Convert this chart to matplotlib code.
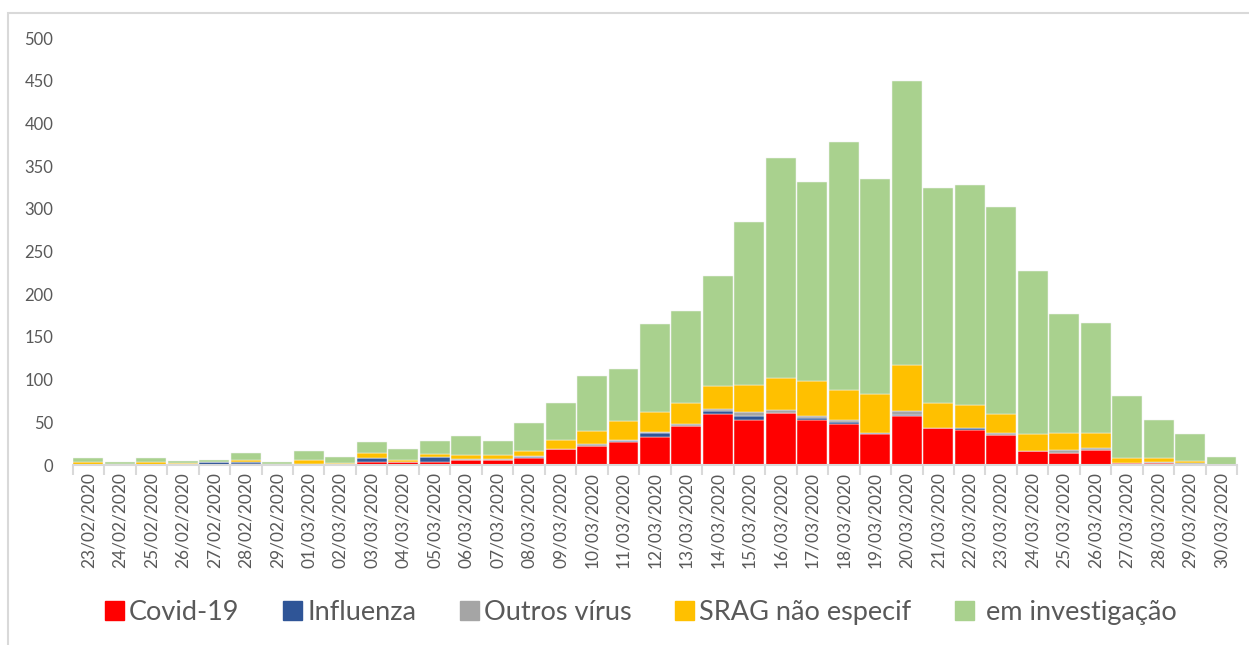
import matplotlib.pyplot as plt
import matplotlib.patches as mpatches
import numpy as np

plt.rcParams['font.family'] = ['Lato', 'DejaVu Sans']

dates = [
    "23/02/2020", "24/02/2020", "25/02/2020", "26/02/2020", "27/02/2020", "28/02/2020",
    "29/02/2020", "01/03/2020", "02/03/2020", "03/03/2020", "04/03/2020", "05/03/2020",
    "06/03/2020", "07/03/2020", "08/03/2020", "09/03/2020", "10/03/2020", "11/03/2020",
    "12/03/2020", "13/03/2020", "14/03/2020", "15/03/2020", "16/03/2020", "17/03/2020",
    "18/03/2020", "19/03/2020", "20/03/2020", "21/03/2020", "22/03/2020", "23/03/2020",
    "24/03/2020", "25/03/2020", "26/03/2020", "27/03/2020", "28/03/2020", "29/03/2020",
    "30/03/2020",
]
covid = [0, 0, 0, 0, 0, 1, 0, 0, 0, 4, 3, 3, 6, 6, 8, 19, 22, 27, 33, 46, 60, 53, 61, 53,
         48, 36, 57, 43, 41, 35, 16, 14, 18, 2, 2, 0, 0]
influenza = [0, 0, 0, 1, 3, 2, 1, 1, 1, 4, 1, 6, 0, 0, 2, 0, 0, 1, 5, 0, 3, 4, 0, 2,
             2, 1, 2, 0, 2, 0, 0, 0, 0, 0, 0, 0, 0]
outros = [0, 0, 0, 0, 0, 0, 0, 0, 0, 0, 0, 0, 1, 1, 1, 0, 3, 1, 1, 2, 3, 5, 3, 3,
          3, 1, 4, 0, 0, 3, 1, 4, 2, 0, 1, 2, 0]
srag = [3, 1, 3, 1, 0, 3, 0, 5, 1, 6, 2, 4, 5, 5, 5, 10, 15, 23, 23, 25, 26, 32, 38, 40,
        35, 45, 54, 30, 27, 22, 19, 20, 18, 6, 5, 3, 0]
investigacao = [5, 3, 5, 3, 3, 8, 3, 10, 8, 13, 13, 15, 22, 16, 33, 44, 64, 61, 103, 107,
                129, 191, 258, 234, 290, 252, 333, 251, 258, 242, 191, 139, 128, 73, 45, 31, 10]

series = [
    ("Covid-19", covid, "#FF0000"),
    ("Influenza", influenza, "#2F5597"),
    ("Outros vírus", outros, "#A5A5A5"),
    ("SRAG não especif", srag, "#FFC000"),
    (" em investigação", investigacao, "#A9D18E"),
]

fig = plt.figure(figsize=(12.49, 6.45), dpi=100)
ax = fig.add_axes([0.0582, 0.279, 0.9324, 0.662])

x = np.arange(len(dates))
bottom = np.zeros(len(dates))
for name, vals, color in series:
    ax.bar(x, vals, bottom=bottom, width=0.95, color=color,
           edgecolor="#F2F2F2", linewidth=0.35, label=name)
    bottom += np.array(vals)

ax.set_xlim(-0.5, len(dates) - 0.5)
ax.set_ylim(0, 500)
ax.set_yticks(np.arange(0, 501, 50))

ax.set_xticks(x)
ax.set_xticklabels(dates, rotation=90)
ax.set_xticks(np.arange(-0.5, len(dates)), minor=True)
ax.tick_params(axis="x", which="major", length=0, pad=5, labelsize=12.5, labelcolor="#595959")
ax.tick_params(axis="x", which="minor", length=7, width=1.5, color="#D9D9D9")
ax.tick_params(axis="y", length=0, pad=14, labelsize=12, labelcolor="#595959")

for side in ["top", "right", "left"]:
    ax.spines[side].set_visible(False)
ax.spines["bottom"].set_color("#D9D9D9")
ax.spines["bottom"].set_linewidth(1.5)

handles = [mpatches.Patch(color=c, label=n) for n, _, c in series]
fig.legend(handles=handles, loc="center", bbox_to_anchor=(0.513, 0.05), ncol=5,
           frameon=False, fontsize=19.5, handlelength=0.7, handleheight=0.7,
           handletextpad=0.2, columnspacing=1.6, labelcolor="#595959")

# chart area border
fig.add_artist(mpatches.Rectangle((8 / 1249, -0.01), 1.0, 1 - 13 / 645 + 0.01,
                                  transform=fig.transFigure, fill=False,
                                  edgecolor="#D9D9D9", linewidth=1.5))

fig.savefig("out.png", dpi=100)
